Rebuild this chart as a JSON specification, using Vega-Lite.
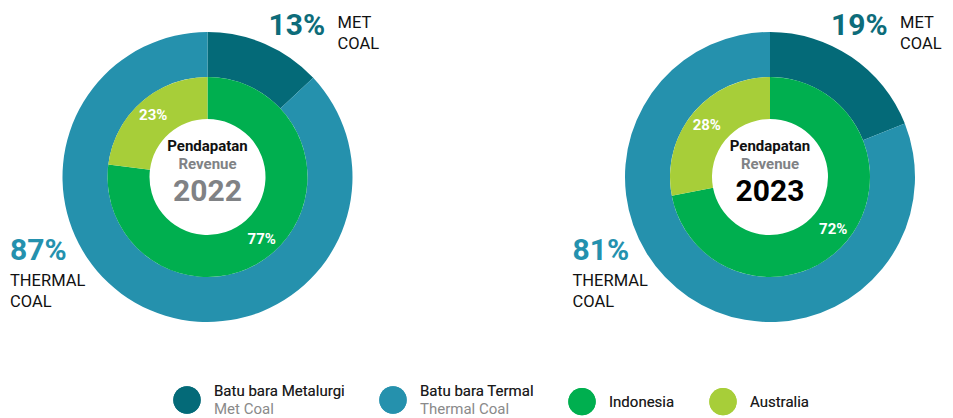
{
  "$schema": "https://vega.github.io/schema/vega-lite/v6.json",
  "width": 953,
  "height": 354,
  "padding": 0,
  "background": "white",
  "config": {"view": {"stroke": null}, "font": "Roboto"},
  "data": {"values": [
    {"year": "2022", "ring": "outer", "segment": "Met Coal", "share": 0.13},
    {"year": "2022", "ring": "outer", "segment": "Thermal Coal", "share": 0.87},
    {"year": "2022", "ring": "inner", "segment": "Indonesia", "share": 0.77},
    {"year": "2022", "ring": "inner", "segment": "Australia", "share": 0.23},
    {"year": "2023", "ring": "outer", "segment": "Met Coal", "share": 0.19},
    {"year": "2023", "ring": "outer", "segment": "Thermal Coal", "share": 0.81},
    {"year": "2023", "ring": "inner", "segment": "Indonesia", "share": 0.72},
    {"year": "2023", "ring": "inner", "segment": "Australia", "share": 0.28}
  ]},
  "encoding": {
    "x": {"field": "year", "type": "nominal", "scale": {"type": "point", "domain": ["2022", "2023"], "range": [207.5, 770], "padding": 0}, "axis": null}
  },
  "layer": [
    {
      "transform": [
        {"filter": "datum.ring == 'outer'"},
        {"stack": "share", "groupby": ["year"], "sort": [{"field": "segment", "order": "ascending"}], "as": ["s0", "s1"]}
      ],
      "mark": {"type": "arc", "radius": 145, "radius2": 100},
      "encoding": {
        "theta": {"field": "s0", "type": "quantitative", "scale": {"domain": [0, 1]}},
        "theta2": {"field": "s1"},
        "color": {
          "field": "segment", "type": "nominal",
          "scale": {"domain": ["Met Coal", "Thermal Coal", "Indonesia", "Australia"], "range": ["#046a78", "#2591ad", "#00af4f", "#a7ce39"]},
          "legend": {
            "orient": "none", "legendX": 173, "legendY": 386, "direction": "horizontal", "title": null, "zindex": 1,
            "symbolType": "circle", "symbolSize": 750, "symbolStrokeWidth": 0,
            "labelFont": "Roboto", "labelFontSize": 15, "labelColor": "#1a1a1a", "labelOffset": 13,
            "columnPadding": 34, "labelLimit": 400,
            "labelExpr": "datum.label == 'Met Coal' ? ['Batu bara Metalurgi', ' '] : datum.label == 'Thermal Coal' ? ['Batu bara Termal', ' '] : datum.label",
            "encode": {"labels": {"update": {
              "lineHeight": {"value": 18},
              "dy": {"signal": "datum.label == 'Met Coal' || datum.label == 'Thermal Coal' ? -9 : 0"}
            }}}
          }
        }
      }
    },
    {
      "transform": [
        {"filter": "datum.ring == 'inner'"},
        {"stack": "share", "groupby": ["year"], "sort": [{"field": "segment", "order": "descending"}], "as": ["s0", "s1"]}
      ],
      "mark": {"type": "arc", "radius": 100, "radius2": 58},
      "encoding": {
        "theta": {"field": "s0", "type": "quantitative"},
        "theta2": {"field": "s1"},
        "fill": {
          "field": "segment", "type": "nominal",
          "scale": {"domain": ["Australia", "Indonesia", "Thermal Coal", "Met Coal"], "range": ["#a7ce39", "#00af4f", "#2591ad", "#046a78"]},
          "legend": {
            "orient": "none", "legendX": 173, "legendY": 386, "direction": "horizontal", "title": null, "zindex": 0,
            "values": ["Met Coal", "Thermal Coal", "Indonesia", "Australia"],
            "symbolType": "circle", "symbolSize": 750, "symbolStrokeWidth": 0,
            "labelFont": "Roboto", "labelFontSize": 15, "labelColor": "#8a8a8a", "labelOffset": 13,
            "columnPadding": 34, "labelLimit": 400,
            "labelExpr": "datum.label == 'Met Coal' ? ['Batu bara Metalurgi', 'Met Coal'] : datum.label == 'Thermal Coal' ? ['Batu bara Termal', 'Thermal Coal'] : datum.label",
            "encode": {"labels": {"update": {
              "lineHeight": {"value": 18},
              "dy": {"signal": "datum.label == 'Met Coal' || datum.label == 'Thermal Coal' ? -9 : 0"}
            }}}
          }
        }
      }
    },
    {
      "transform": [{"filter": "datum.ring == 'inner' && datum.year == '2022'"}],
      "mark": {"type": "text", "radius": 82, "fontSize": 15, "fontWeight": "bold", "color": "white", "font": "Roboto"},
      "encoding": {
        "theta": {"field": "share", "type": "quantitative", "stack": true},
        "order": {"field": "segment", "sort": "descending"},
        "text": {"field": "share", "type": "quantitative", "format": ".0%"}
      }
    },
    {
      "transform": [{"filter": "datum.ring == 'inner' && datum.year == '2023'"}],
      "mark": {"type": "text", "radius": 82, "fontSize": 15, "fontWeight": "bold", "color": "white", "font": "Roboto"},
      "encoding": {
        "theta": {"field": "share", "type": "quantitative", "stack": true},
        "order": {"field": "segment", "sort": "descending"},
        "text": {"field": "share", "type": "quantitative", "format": ".0%"}
      }
    },
    {
      "transform": [{"filter": "datum.segment == 'Met Coal'"}],
      "mark": {"type": "text", "align": "left", "baseline": "alphabetic", "dx": 61, "dy": -142, "fontSize": 30, "fontWeight": "bold", "color": "#0d6c7a", "font": "Roboto"},
      "encoding": {"text": {"field": "share", "type": "quantitative", "format": ".0%"}}
    },
    {
      "transform": [{"filter": "datum.segment == 'Met Coal'"}],
      "mark": {"type": "text", "align": "left", "baseline": "alphabetic", "dx": 130, "dy": -149, "fontSize": 16.5, "lineHeight": 21, "color": "#111111", "font": "Roboto", "text": ["MET", "COAL"]},
      "encoding": {}
    },
    {
      "transform": [{"filter": "datum.segment == 'Thermal Coal'"}],
      "mark": {"type": "text", "align": "left", "baseline": "alphabetic", "dx": -197.5, "dy": 83, "fontSize": 30, "fontWeight": "bold", "color": "#2491ae", "font": "Roboto"},
      "encoding": {"text": {"field": "share", "type": "quantitative", "format": ".0%"}}
    },
    {
      "transform": [{"filter": "datum.segment == 'Thermal Coal'"}],
      "mark": {"type": "text", "align": "left", "baseline": "alphabetic", "dx": -197.5, "dy": 108.7, "fontSize": 16.5, "lineHeight": 21, "color": "#111111", "font": "Roboto", "text": ["THERMAL", "COAL"]},
      "encoding": {}
    },
    {
      "transform": [{"filter": "datum.segment == 'Met Coal'"}],
      "mark": {"type": "text", "align": "center", "baseline": "alphabetic", "dy": -26, "fontSize": 15, "fontWeight": "bold", "color": "#111111", "font": "Roboto", "text": "Pendapatan"},
      "encoding": {}
    },
    {
      "transform": [{"filter": "datum.segment == 'Met Coal'"}],
      "mark": {"type": "text", "align": "center", "baseline": "alphabetic", "dy": -8, "fontSize": 15, "fontWeight": "bold", "color": "#808285", "font": "Roboto", "text": "Revenue"},
      "encoding": {}
    },
    {
      "transform": [{"filter": "datum.segment == 'Met Coal'"}],
      "mark": {"type": "text", "align": "center", "baseline": "alphabetic", "dy": 24, "fontSize": 30, "fontWeight": "bold", "font": "Roboto"},
      "encoding": {
        "text": {"field": "year", "type": "nominal"},
        "color": {"condition": {"test": "datum.year == '2023'", "value": "#000000"}, "value": "#808285"}
      }
    }
  ]
}
